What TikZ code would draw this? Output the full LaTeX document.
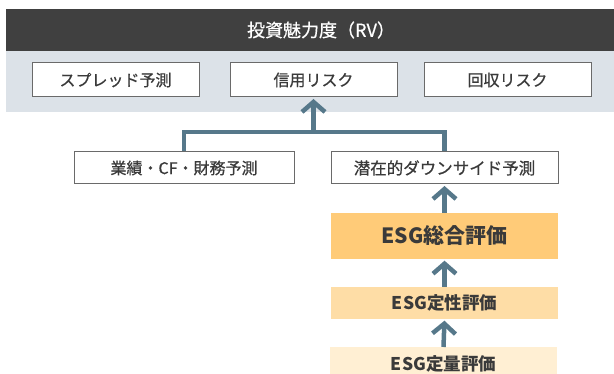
\documentclass[tikz,border=0pt]{standalone}
\usepackage{fontspec}
\setmainfont{Noto Sans CJK JP}
\newfontfamily\medfont{Noto Sans CJK JP}[FakeBold=0.6]
\usetikzlibrary{arrows.meta}
\definecolor{barc}{HTML}{404040}
\definecolor{panel}{HTML}{DCE2E8}
\definecolor{conc}{HTML}{56788A}
\definecolor{txt}{HTML}{3A3A3A}
\definecolor{bord}{HTML}{6A6A6A}
\definecolor{esgA}{HTML}{FFCB78}
\definecolor{esgB}{HTML}{FEDDA6}
\definecolor{esgC}{HTML}{FFEFD3}
\tikzset{
  wbox/.style={draw=bord, line width=1pt, fill=white, text=txt, inner sep=0pt, minimum height=34pt, font=\medfont\fontsize{16}{18}\selectfont},
  ebox/.style={inner sep=0pt, text=txt, minimum width=227pt},
  conn/.style={draw=conc, line width=4.5pt, line join=miter},
  arr/.style={conn, -{Straight Barb[length=10pt,width=23pt]}, shorten >=1.5pt},
}
\begin{document}
\begin{tikzpicture}[x=1pt,y=-1pt]
\useasboundingbox (0,0) rectangle (614,374);
\clip (0,0) rectangle (614,374);
\fill[panel] (6,51) rectangle (614,112);
\fill[barc] (6,9) rectangle (614,51);
\node[text=white, font=\medfont\fontsize{18}{20}\selectfont] (title) at (321,30) {投資魅力度（RV）};
\node[wbox, minimum width=167pt] (spread) at (115.5,80) {スプレッド予測};
\node[wbox, minimum width=167pt] (shin) at (313.5,80) {信用リスク};
\node[wbox, minimum width=167pt] (kai) at (507.5,80) {回収リスク};
\node[wbox, minimum width=220pt, minimum height=32pt] (gyo) at (184,168) {業績・CF・財務予測};
\node[wbox, minimum width=227pt, minimum height=32pt, font=\medfont\fontsize{16.5}{18}\selectfont] (sen) at (444.5,168) {潜在的ダウンサイド予測};
\node[ebox, fill=esgA, minimum height=46pt, font=\bfseries\fontsize{21}{24}\selectfont] (esg1) at (444.5,236) {ESG総合評価};
\node[ebox, fill=esgB, minimum height=32pt, font=\bfseries\fontsize{17.5}{20}\selectfont] (esg2) at (444.5,303) {ESG定性評価};
\node[ebox, fill=esgC, minimum height=34pt, font=\bfseries\fontsize{17.5}{20}\selectfont, anchor=north] (esg3) at (443.5,347) {ESG定量評価};
\coordinate (j) at (313.5,132);
\draw[conn] (gyo.north) |- (j) -| (sen.north);
\draw[arr] (j) -- (shin.south);
\draw[arr] (esg1.north) -- (sen.south);
\draw[arr] (esg2.north) -- (esg1.south);
\draw[arr] (esg3.north) -- (esg2.south);
\end{tikzpicture}
\end{document}
